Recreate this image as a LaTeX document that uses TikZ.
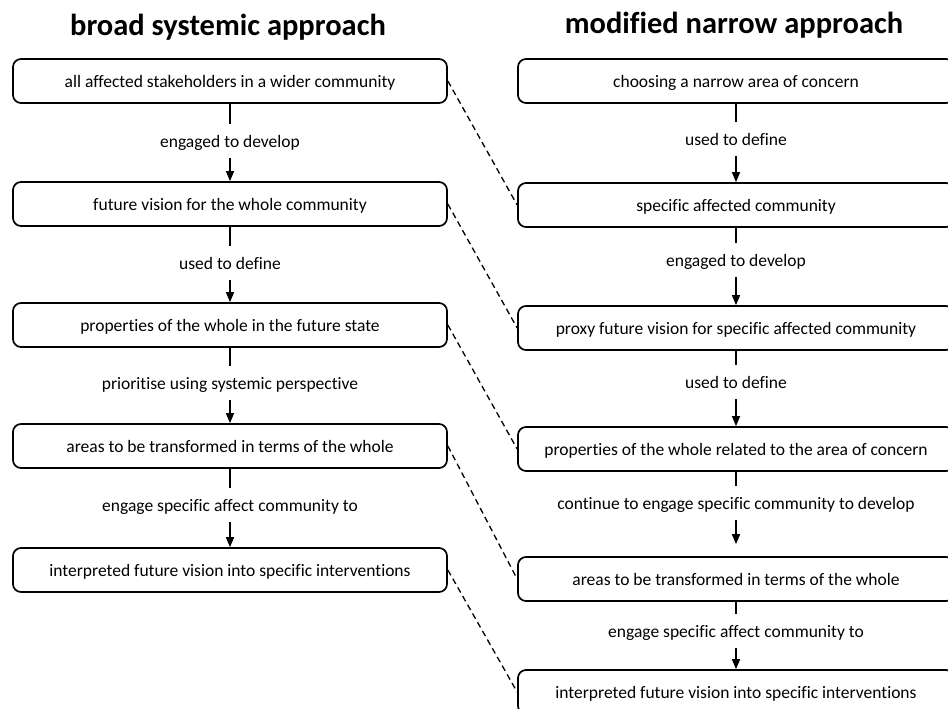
\documentclass[tikz,border=0pt]{standalone}
\usepackage{fontspec}
\setmainfont[Ligatures=NoCommon]{Carlito}
\usetikzlibrary{arrows.meta}
\begin{document}
\begin{tikzpicture}[x=1pt,y=-1pt,
  box/.style={draw,line width=1.7pt,rounded corners=8pt,minimum height=44pt,inner sep=0pt,text height=13pt,text depth=0pt,font=\fontsize{17.5}{20}\selectfont},
  lbox/.style={box,minimum width=434pt},
  rbox/.style={box,minimum width=436pt},
  lab/.style={inner sep=0pt,minimum height=34pt,text height=13pt,text depth=0pt,font=\fontsize{17.5}{20}\selectfont},
  ttl/.style={font=\bfseries\fontsize{30.5}{34}\selectfont,inner sep=0pt},
  flow/.style={line width=1.4pt},
  flowarr/.style={line width=1.4pt,-{Triangle[length=10pt,width=8pt]}},
  link/.style={line width=1.3pt,dash pattern=on 6pt off 4pt}
]
\clip (0,0) rectangle (948,709);
\fill[white] (0,0) rectangle (948,709);

\node[ttl] (tl) at (228,27) {broad systemic approach};
\node[ttl] (tr) at (734,25) {modified narrow approach};

% left column
\node[lbox] (l1) at (230,81) {all affected stakeholders in a wider community};
\node[lbox] (l2) at (230,204) {future vision for the whole community};
\node[lbox] (l3) at (230,325) {properties of the whole in the future state};
\node[lbox] (l4) at (230,446) {areas to be transformed in terms of the whole};
\node[lbox] (l5) at (230,570) {interpreted future vision into specific interventions};

\node[lab] (la1) at (230,141) {engaged to develop};
\node[lab] (la2) at (230,263) {used to define};
\node[lab] (la3) at (230,383) {prioritise using systemic perspective};
\node[lab] (la4) at (230,505) {engage specific affect community to};

\draw[flow] (l1.south) -- (la1.north);
\draw[flowarr] (la1.south) -- (l2.north);
\draw[flow] (l2.south) -- (la2.north);
\draw[flowarr] (la2.south) -- (l3.north);
\draw[flow] (l3.south) -- (la3.north);
\draw[flowarr] (la3.south) -- (l4.north);
\draw[flow] (l4.south) -- (la4.north);
\draw[flowarr] (la4.south) -- (l5.north);

% right column
\node[rbox] (r1) at (736,81) {choosing a narrow area of concern};
\node[rbox] (r2) at (736,205) {specific affected community};
\node[rbox] (r3) at (736,328) {proxy future vision for specific affected community};
\node[rbox] (r4) at (736,449) {properties of the whole related to the area of concern};
\node[rbox] (r5) at (736,579) {areas to be transformed in terms of the whole};
\node[rbox] (r6) at (736,692) {interpreted future vision into specific interventions};

\node[lab] (ra1) at (736,139) {used to define};
\node[lab] (ra2) at (736,260) {engaged to develop};
\node[lab] (ra3) at (736,382) {used to define};
\node[lab] (ra4) at (736,503) {continue to engage specific community to develop};
\node[lab] (ra5) at (736,631) {engage specific affect community to};

\draw[flow] (r1.south) -- (ra1.north);
\draw[flowarr] (ra1.south) -- (r2.north);
\draw[flow] (r2.south) -- (ra2.north);
\draw[flowarr] (ra2.south) -- (r3.north);
\draw[flow] (r3.south) -- (ra3.north);
\draw[flowarr] (ra3.south) -- (r4.north);
\draw[flow] (r4.south) -- (ra4.north);
\draw[flowarr,shorten >=12pt] (ra4.south) -- (r5.north);
\draw[flow] (r5.south) -- (ra5.north);
\draw[flowarr] (ra5.south) -- (r6.north);

% cross links
\draw[link] (l1.east) -- (r2.west);
\draw[link] (l2.east) -- (r3.west);
\draw[link] (l3.east) -- (r4.west);
\draw[link] (l4.east) -- (r5.west);
\draw[link] (l5.east) -- (r6.west);
\end{tikzpicture}
\end{document}
